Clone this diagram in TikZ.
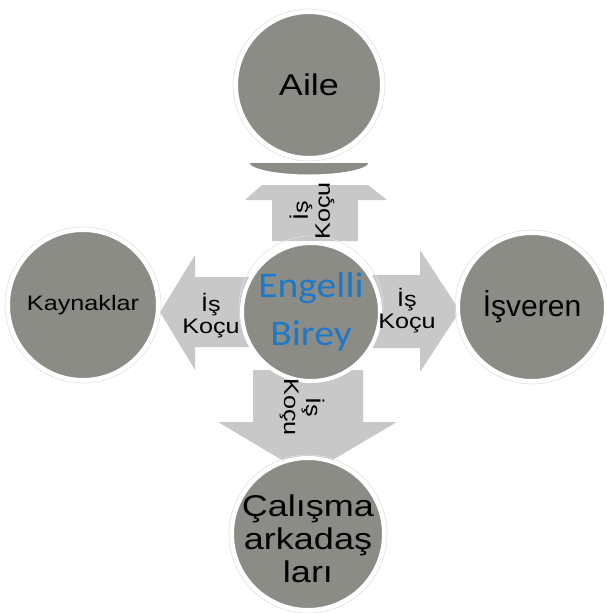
\documentclass[tikz,border=0pt]{standalone}
\usepackage{fontspec}
\setmainfont{Liberation Sans}
\newfontfamily\widefont[FakeStretch=1.2]{Liberation Sans}
\newfontfamily\blueFont[FakeStretch=1.1]{Carlito}
\definecolor{circgray}{RGB}{140,140,135}
\definecolor{arrgray}{RGB}{200,200,200}
\definecolor{ringgray}{RGB}{225,225,225}
\definecolor{egblue}{RGB}{30,120,200}
\tikzset{
  bubble/.style={circle, fill=circgray, draw=white, line width=4pt, inner sep=0pt,
    minimum size=#1, text=black, align=center},
  ring/.style={draw=ringgray, line width=0.6pt},
  arrowshape/.style={fill=arrgray, draw=none},
  coach/.style={font=\widefont\fontsize{21}{22}\selectfont, align=center, text=black, inner sep=0pt},
}
\begin{document}
\begin{tikzpicture}[x=1pt,y=-1pt]
\useasboundingbox (0,0) rectangle (607,613);
% arrows
\fill[arrowshape] (272,241) -- (272,200) -- (245,200) -- (262,185) -- (368,185) -- (387,200) -- (358,200) -- (358,241) -- cycle;
\fill[arrowshape] (250,277) -- (195,277) -- (195,255) -- (160,312) -- (195,370) -- (195,347) -- (250,347) -- cycle;
\fill[arrowshape] (370,275) -- (420,275) -- (420,250) -- (460,311) -- (420,372) -- (420,348) -- (370,348) -- cycle;
\fill[arrowshape] (253,370) -- (253,422) -- (218,422) -- (307,475) -- (397,422) -- (363,422) -- (363,370) -- cycle;
% strip under Aile
\begin{scope}
\clip (200,163) rectangle (420,200);
\fill[circgray, draw=white, line width=3pt] (309,163) ellipse [x radius=61, y radius=13];
\end{scope}
% circles
\draw[ring] (309,85) circle (76);
\node[bubble=146pt, font=\widefont\fontsize{30}{33}\selectfont] (aile) at (309,85) {Aile};
\draw[ring] (83,305) circle (78);
\node[bubble=150pt, font=\widefont\fontsize{21}{24}\selectfont] (kay) at (83,305) {Kaynaklar};
\draw[ring] (532,307) circle (77);
\node[bubble=148pt, font=\fontsize{30}{33}\selectfont] (isv) at (532,307) {İşveren};
\draw[ring] (308,534) circle (79);
\node[bubble=152pt, font=\widefont\fontsize{30}{33}\selectfont] (cal) at (308,534) {};
\node[align=center, font=\widefont\fontsize{30}{33}\selectfont, inner sep=0pt] (calt) at (308,539) {Çalışma\\arkadaş\\ları};
\draw[ring] (311,308) circle (72);
\node[bubble=138pt, text=egblue, font=\blueFont\fontsize{36}{48}\selectfont] (eb) at (311,312) {Engelli\\Birey};
% arrow labels
\node[coach, rotate=90] (cu) at (312,211) {İş\\Koçu};
\node[coach] (cl) at (211,316) {İş\\Koçu};
\node[coach] (cr) at (407,311) {İş\\Koçu};
\node[coach, rotate=-90] (cd) at (302,407) {İş\\Koçu};
\end{tikzpicture}
\end{document}
